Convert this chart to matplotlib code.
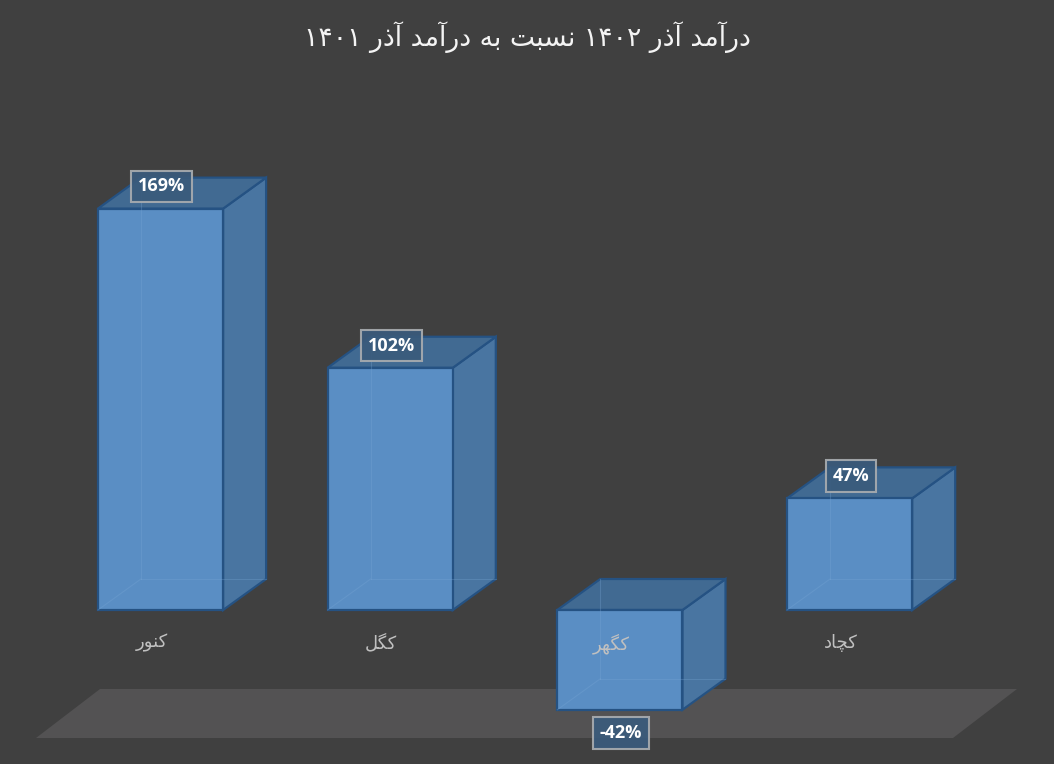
import re
import matplotlib
matplotlib.use("Agg")
import matplotlib.pyplot as plt
from matplotlib.patches import Polygon
from matplotlib.transforms import IdentityTransform

# ---------------- data ----------------
categories = ["کنور", "کگل", "کگهر", "کچاد"]
values = [169, 102, -42, 47]
value_labels = ["169%", "102%", "-42%", "47%"]
title = "درآمد آذر ۱۴۰۲ نسبت به درآمد آذر ۱۴۰۱"

# ---------------- minimal Persian shaping (matplotlib has no bidi/shaping) ----------------
FORMS = {
    '\u0627': ('\uFE8D', '\uFE8E', None, None),
    '\u0622': ('\uFE81', '\uFE82', None, None),
    '\u062F': ('\uFEA9', '\uFEAA', None, None),
    '\u0630': ('\uFEAB', '\uFEAC', None, None),
    '\u0631': ('\uFEAD', '\uFEAE', None, None),
    '\u0648': ('\uFEED', '\uFEEE', None, None),
    '\u0628': ('\uFE8F', '\uFE90', '\uFE91', '\uFE92'),
    '\u062A': ('\uFE95', '\uFE96', '\uFE97', '\uFE98'),
    '\u062C': ('\uFE9D', '\uFE9E', '\uFE9F', '\uFEA0'),
    '\u0686': ('\uFB7A', '\uFB7B', '\uFB7C', '\uFB7D'),
    '\u0633': ('\uFEB1', '\uFEB2', '\uFEB3', '\uFEB4'),
    '\u0644': ('\uFEDD', '\uFEDE', '\uFEDF', '\uFEE0'),
    '\u0645': ('\uFEE1', '\uFEE2', '\uFEE3', '\uFEE4'),
    '\u0646': ('\uFEE5', '\uFEE6', '\uFEE7', '\uFEE8'),
    '\u0647': ('\uFEE9', '\uFEEA', '\uFEEB', '\uFEEC'),
    '\u06A9': ('\uFB8E', '\uFB8F', '\uFB90', '\uFB91'),
    '\u06AF': ('\uFB92', '\uFB93', '\uFB94', '\uFB95'),
}


def shape(s):
    out = []
    for i, c in enumerate(s):
        if c not in FORMS:
            out.append(c)
            continue
        f = FORMS[c]
        prev = s[i - 1] if i > 0 else ''
        nxt = s[i + 1] if i + 1 < len(s) else ''
        jp = prev in FORMS and FORMS[prev][2] is not None
        jn = nxt in FORMS and f[2] is not None
        if jp and jn:
            out.append(f[3])
        elif jp:
            out.append(f[1])
        elif jn:
            out.append(f[2])
        else:
            out.append(f[0])
    return ''.join(out)


def rtl(s):
    s = shape(s)
    toks = re.findall(r'[0-9\u06F0-\u06F9]+|[^0-9\u06F0-\u06F9]+', s)
    return ''.join(t if t[0].isdigit() else t[::-1] for t in reversed(toks))


# ---------------- style ----------------
BG = "#404040"
FLOOR = "#535253"
FRONT = "#5a8ec4"
TOP = "#416a92"
SIDE = "#4975a1"
EDGE = "#255283"
HIDDEN = "#7aa8d6"
DEPTH_PX = (43, 31)   # oblique depth offset in pixels
BAR_W = 0.545

W, H, DPI = 1054, 764, 100
fig = plt.figure(figsize=(W / DPI, H / DPI), dpi=DPI)
fig.patch.set_facecolor(BG)
ax = fig.add_axes([0, 0, 1, 1])
ax.set_facecolor(BG)
ax.axis("off")
px_per_x = 229.7
px_per_y = 2.375
x0_px, y0_px = 160.5, 154
ax.set_xlim(-x0_px / px_per_x, (W - x0_px) / px_per_x)
ax.set_ylim(-y0_px / px_per_y, (H - y0_px) / px_per_y)

ident = IdentityTransform()

# floor (3D chart base plane)
floor = Polygon([(36, 26), (953, 26), (1017, 75), (100, 75)], closed=True,
                transform=ident, facecolor=FLOOR, edgecolor="none", zorder=1)
ax.add_patch(floor)

dx, dy = DEPTH_PX
for i, v in enumerate(values):
    lo, hi = min(0, v), max(0, v)
    (xl, yb) = ax.transData.transform((i - BAR_W / 2, lo))
    (xr, yt) = ax.transData.transform((i + BAR_W / 2, hi))
    front = [(xl, yb), (xr, yb), (xr, yt), (xl, yt)]
    top = [(xl, yt), (xr, yt), (xr + dx, yt + dy), (xl + dx, yt + dy)]
    side = [(xr, yb), (xr + dx, yb + dy), (xr + dx, yt + dy), (xr, yt)]
    for pts, col in ((side, SIDE), (top, TOP), (front, FRONT)):
        ax.add_patch(Polygon(pts, closed=True, transform=ident, facecolor=col,
                             edgecolor=EDGE, linewidth=1.6, joinstyle="miter",
                             zorder=2 + i))
    # faint hidden back edges (semi-transparent look)
    for seg in (
        [(xl, yb), (xl + dx, yb + dy)],
        [(xl + dx, yb + dy), (xl + dx, yt + dy)],
        [(xl + dx, yb + dy), (xr + dx, yb + dy)],
    ):
        ax.add_line(plt.Line2D([p[0] for p in seg], [p[1] for p in seg],
                               transform=ident, color=HIDDEN, lw=0.8, alpha=0.3,
                               zorder=2.5 + i))

# category labels
for i, (c, v) in enumerate(zip(categories, values)):
    ax.annotate(rtl(c), xy=(i, 0), xytext=(-6.5, -24), textcoords="offset points",
                ha="center", va="center", fontsize=13, color="#c0c0c0",
                family="DejaVu Sans", zorder=20)

# value labels
for i, (lab, v) in enumerate(zip(value_labels, values)):
    off = 16 if v >= 0 else -16.5
    ax.annotate(lab, xy=(i, v), xytext=(0.8, off), textcoords="offset points",
                ha="center", va="center", fontsize=13, fontweight="bold",
                color="white", family="Open Sans", zorder=30,
                bbox=dict(boxstyle="square,pad=0.38", facecolor="#3a5b7c",
                          alpha=0.92, edgecolor="#a8acb0", linewidth=1.5))

fig.text(0.5, 1 - 37 / H, rtl(title), ha="center", va="center", fontsize=19.2,
         color="#f4f4f4", family="DejaVu Sans")

fig.savefig("out.png", dpi=DPI, facecolor=BG)
